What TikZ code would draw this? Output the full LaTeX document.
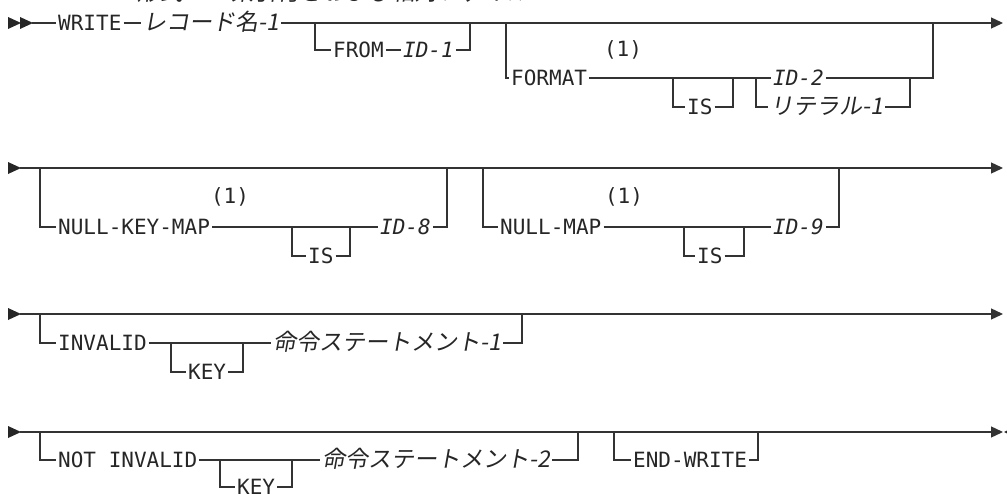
\documentclass[tikz,border=0pt]{standalone}
\usepackage{fontspec}
\setmonofont{DejaVu Sans Mono}
\newfontfamily\jpfont[FakeSlant=0.18]{Noto Sans CJK JP}
\usetikzlibrary{arrows.meta}

\tikzset{
    kw/.style={font=\ttfamily\fontsize{21}{24}\selectfont, text=black!85, inner xsep=2pt, inner ysep=0pt,
               text height=15pt, text depth=0pt, anchor=west},
    var/.style={kw, font=\ttfamily\itshape\fontsize{21}{24}\selectfont},
    jp/.style={kw, font=\jpfont\fontsize{23}{26}\selectfont},
    note/.style={font=\ttfamily\fontsize{21}{24}\selectfont, text=black!85, inner sep=0pt},
    rail/.style={line width=1.3pt, draw=black!80},
    railend/.style={rail, -{Triangle[length=12pt,width=11pt]}},
    head/.style={fill=black!85}
}

\begin{document}
\begin{tikzpicture}[x=1pt, y=-1pt]
    \useasboundingbox (0,0) rectangle (1007,495);

    % title, cut off at the top edge
    \node[jp, anchor=base west] (title) at (135,1) {形式 2 — 索引付きおよび相対ファイル};

    % ---- row 1: WRITE record FROM / FORMAT ----
    \fill[head] (8,17) -- (21,23) -- (8,29) -- cycle;
    \fill[head] (20,17) -- (33,23) -- (20,29) -- cycle;
    \coordinate (s1) at (32,23);
    \coordinate (e1) at (1003,23);
    \node[kw] (write) at (56,23) {WRITE};
    \node[jp] (rec) at (141,23) {レコード名-1};
    \draw[rail] (s1) -- (write);
    \draw[rail] (write) -- (rec);
    \draw[railend] (rec) -- (e1);

    % FROM branch
    \coordinate (f1) at (315,23);
    \coordinate (f2) at (470,23);
    \node[kw] (from) at (331,50) {FROM};
    \node[var] (id1) at (401,50) {ID-1};
    \draw[rail] (f1) |- (from);
    \draw[rail] (from) -- (id1);
    \draw[rail] (id1) -| (f2);

    % FORMAT branch
    \coordinate (g1) at (506,23);
    \coordinate (g2) at (933,23);
    \node[kw] (format) at (509,78) {FORMAT};
    \node[note] (n1) at (623,50) {(1)};
    \coordinate (is1a) at (673,78);
    \coordinate (is1b) at (733,78);
    \node[kw] (is1) at (685,107) {IS};
    \coordinate (c1a) at (756,78);
    \coordinate (c1b) at (910,78);
    \node[var] (id2) at (771,78) {ID-2};
    \node[jp] (lit1) at (768,107) {リテラル-1};
    \draw[rail] (g1) |- (format);
    \draw[rail] (format) -- (id2);
    \draw[rail] (id2) -| (g2);
    \draw[rail] (is1a) |- (is1) -| (is1b);
    \draw[rail] (c1a) |- (lit1) -| (c1b);

    % ---- row 2: NULL-KEY-MAP / NULL-MAP ----
    \fill[head] (8,162) -- (21,168) -- (8,174) -- cycle;
    \coordinate (s2) at (20,168);
    \coordinate (e2) at (1003,168);
    \draw[railend] (s2) -- (e2);

    \coordinate (h1) at (40,168);
    \coordinate (h2) at (447,168);
    \node[kw] (nkm) at (56,227) {NULL-KEY-MAP};
    \node[note] (n2) at (230,197) {(1)};
    \coordinate (is2a) at (292,227);
    \coordinate (is2b) at (350,227);
    \node[kw] (is2) at (306,256) {IS};
    \node[var] (id8) at (378,227) {ID-8};
    \draw[rail] (h1) |- (nkm) -- (id8) -| (h2);
    \draw[rail] (is2a) |- (is2) -| (is2b);

    \coordinate (k1) at (483,168);
    \coordinate (k2) at (839,168);
    \node[kw] (nm) at (498,227) {NULL-MAP};
    \node[note] (n3) at (624,197) {(1)};
    \coordinate (is3a) at (684,227);
    \coordinate (is3b) at (744,227);
    \node[kw] (is3) at (695,256) {IS};
    \node[var] (id9) at (771,227) {ID-9};
    \draw[rail] (k1) |- (nm) -- (id9) -| (k2);
    \draw[rail] (is3a) |- (is3) -| (is3b);

    % ---- row 3: INVALID KEY ----
    \fill[head] (8,308) -- (21,314) -- (8,320) -- cycle;
    \coordinate (s3) at (20,314);
    \coordinate (e3) at (1003,314);
    \draw[railend] (s3) -- (e3);

    \coordinate (m1) at (40,314);
    \coordinate (m2) at (522,314);
    \node[kw] (inv) at (56,343) {INVALID};
    \coordinate (key1a) at (171,343);
    \coordinate (key1b) at (243,343);
    \node[kw] (key1) at (186,372) {KEY};
    \node[jp] (stmt1) at (271,343) {命令ステートメント-1};
    \draw[rail] (m1) |- (inv) -- (stmt1) -| (m2);
    \draw[rail] (key1a) |- (key1) -| (key1b);

    % ---- row 4: NOT INVALID KEY, END-WRITE ----
    \fill[head] (8,426) -- (21,432) -- (8,438) -- cycle;
    \coordinate (s4) at (20,432);
    \coordinate (e4) at (1003,432);
    \draw[railend] (s4) -- (e4);
    \fill[head] (1004,432) -- (1016,426) -- (1016,438) -- cycle;

    \coordinate (p1) at (40,432);
    \coordinate (p2) at (578,432);
    \node[kw] (ninv) at (56,460) {NOT INVALID};
    \coordinate (key2a) at (220,460);
    \coordinate (key2b) at (292,460);
    \node[kw] (key2) at (235,487) {KEY};
    \node[jp] (stmt2) at (320,460) {命令ステートメント-2};
    \draw[rail] (p1) |- (ninv) -- (stmt2) -| (p2);
    \draw[rail] (key2a) |- (key2) -| (key2b);

    \coordinate (q1) at (614,432);
    \coordinate (q2) at (758,432);
    \node[kw] (endw) at (631,460) {END-WRITE};
    \draw[rail] (q1) |- (endw) -| (q2);
\end{tikzpicture}
\end{document}
